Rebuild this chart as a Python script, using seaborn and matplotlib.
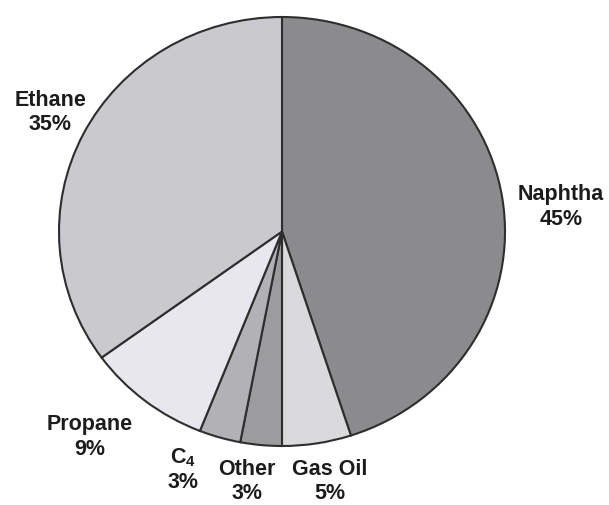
import matplotlib
matplotlib.use("Agg")
import matplotlib.pyplot as plt
import seaborn as sns

sns.set_theme(style="white")
plt.rcParams["font.family"] = ["Liberation Sans", "DejaVu Sans"]
plt.rcParams["mathtext.fontset"] = "custom"
plt.rcParams["mathtext.bf"] = "Liberation Sans:bold"
plt.rcParams["mathtext.rm"] = "Liberation Sans"

# Ethylene feedstock shares, clockwise from 12 o'clock
feeds = ["Naphtha", "Gas Oil", "Other", r"$\mathbf{C_4}$", "Propane", "Ethane"]
shares = [45, 5, 3, 3, 9, 35]
colors = ["#8b8b8e", "#dadadd", "#9c9c9f", "#b2b2b6", "#e9e7ee", "#c9c9ce"]

# label anchor points in pie units (radius 1)
label_x = [1.251, 0.215, -0.157, -0.444, -0.861, -1.040]
label_y = [0.119, -1.160, -1.160, -1.107, -0.953, 0.560]

fig = plt.figure(figsize=(6.09, 5.06), dpi=100)
fig.patch.set_facecolor("white")
ax = fig.add_axes([59 / 609, (506 - 447) / 506, 446 / 609, 429 / 506])

ax.pie(
    shares,
    colors=colors,
    startangle=90,
    counterclock=False,
    radius=1,
    wedgeprops=dict(edgecolor="#2e2e2e", linewidth=1.5),
)
ax.set_aspect("auto")
ax.set_xlim(-1, 1)
ax.set_ylim(-1, 1)
ax.axis("off")

for name, val, x, y in zip(feeds, shares, label_x, label_y):
    ax.text(
        x, y, f"{name}\n{val}%",
        ha="center", va="center",
        fontsize=15.5, fontweight="bold", color="#1c1c1c",
        linespacing=1.2, clip_on=False,
    )

fig.savefig("out.png", dpi=100, facecolor="white")
